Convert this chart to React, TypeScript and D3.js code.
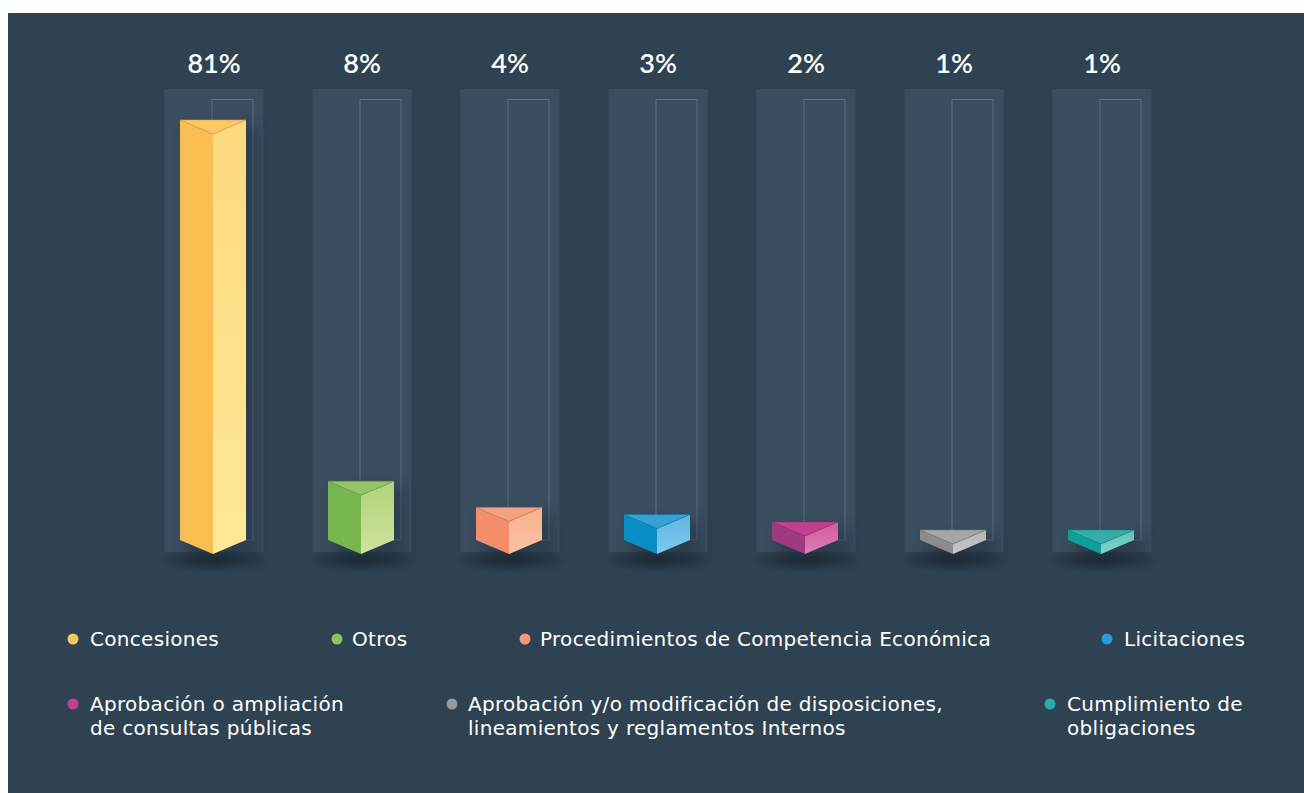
import * as d3 from 'd3';
import { useEffect, useRef } from 'react';

// Data
const categories = [
  'Concesiones',
  'Otros',
  'Procedimientos de Competencia Económica',
  'Licitaciones',
  'Aprobación o ampliación de consultas públicas',
  'Aprobación y/o modificación de disposiciones, lineamientos y reglamentos Internos',
  'Cumplimiento de obligaciones',
];
const values = [81, 8, 4, 3, 2, 1, 1];
const valueLabels = ['81%', '8%', '4%', '3%', '2%', '1%', '1%'];

// legend text lines (as wrapped in the original)
const legendLines = [
  ['Concesiones'],
  ['Otros'],
  ['Procedimientos de Competencia Económica'],
  ['Licitaciones'],
  ['Aprobación o ampliación', 'de consultas públicas'],
  ['Aprobación y/o modificación de disposiciones,', 'lineamientos y reglamentos Internos'],
  ['Cumplimiento de', 'obligaciones'],
];

// face colours: left, right (top / bottom of gradient), top, legend dot
const leftColors = ['#f9bd52', '#78b74f', '#f48d6b', '#0a8dc7', '#9c3b7f', '#8c8c8c', '#0f9f9a'];
const rightTop = ['#fdd97d', '#b2d37b', '#f8b08c', '#5db6e2', '#d05c9f', '#b4b4b4', '#5ec3b9'];
const rightBottom = ['#fee898', '#cde39c', '#fac3a2', '#80c9ec', '#de7cb7', '#c8c8c8', '#7fd2c9'];
const topColors = ['#fbc862', '#95c462', '#f5a07f', '#3a9fd3', '#c2408e', '#a6a6a6', '#35aca8'];
const dotColors = ['#fbc55f', '#8dc35b', '#f4977b', '#2d9ad5', '#c0408c', '#9a9a9a', '#2fa9a4'];

const W = 1304;
const H = 793;
const FONT = 'Lato, "Open Sans", sans-serif';
const LEGEND_FONT = '"DejaVu Sans", sans-serif';

// legend layout (x of dot, x of text, y of first line baseline)
const legendPos: [number, number, number][] = [
  [73, 90, 646],
  [337, 352, 646],
  [525, 540, 646],
  [1107, 1124, 646],
  [73, 90, 711],
  [452, 468, 711],
  [1050, 1067, 711],
];

const App = () => {
  const svgRef = useRef<SVGSVGElement>(null);

  useEffect(() => {
    if (!svgRef.current) return;
    const svg = d3.select(svgRef.current);
    svg.selectAll('*').remove();

    const baseY = 540;
    const colTop = 89;
    const colBottom = 552;
    const halfW = 33;
    const depth = 14;

    const x = d3
      .scaleBand<string>()
      .domain(categories)
      .range([140, 1176])
      .paddingInner(0.331)
      .paddingOuter(0.1655);

    // pow scale: small shares still show
    const h = d3.scalePow().exponent(0.85).domain([0, 81]).range([0, 420]);

    const defs = svg.append('defs');
    categories.forEach((_, i) => {
      const g = defs
        .append('linearGradient')
        .attr('id', `rg${i}`)
        .attr('x1', 0)
        .attr('y1', 0)
        .attr('x2', 0)
        .attr('y2', 1);
      g.append('stop').attr('offset', '0%').attr('stop-color', rightTop[i]);
      g.append('stop').attr('offset', '100%').attr('stop-color', rightBottom[i]);
    });
    const sh = defs.append('radialGradient').attr('id', 'shadow');
    sh.append('stop').attr('offset', '0%').attr('stop-color', '#1a2530').attr('stop-opacity', 0.85);
    sh.append('stop').attr('offset', '100%').attr('stop-color', '#1a2530').attr('stop-opacity', 0);
    const blur = defs
      .append('filter')
      .attr('id', 'blur')
      .attr('x', '-50%')
      .attr('y', '-50%')
      .attr('width', '200%')
      .attr('height', '200%');
    blur.append('feGaussianBlur').attr('stdDeviation', 7);

    svg.append('rect').attr('width', W).attr('height', H).attr('fill', '#ffffff');
    svg
      .append('rect')
      .attr('x', 8)
      .attr('y', 13)
      .attr('width', W - 8)
      .attr('height', H - 13)
      .attr('fill', '#2e4252');

    // column backgrounds
    svg
      .selectAll('.col')
      .data(categories)
      .join('rect')
      .attr('class', 'col')
      .attr('x', (d) => x(d)!)
      .attr('y', colTop)
      .attr('width', x.bandwidth())
      .attr('height', colBottom - colTop)
      .attr('fill', '#3a4e60');

    // thin outline track
    svg
      .selectAll('.track')
      .data(categories)
      .join('rect')
      .attr('class', 'track')
      .attr('x', (d) => x(d)! + x.bandwidth() / 2 - 2)
      .attr('y', 99.5)
      .attr('width', 41)
      .attr('height', baseY - 99.5)
      .attr('fill', 'none')
      .attr('stroke', '#5f7182')
      .attr('stroke-width', 1);

    const cxOf = (d: string) => x(d)! + x.bandwidth() / 2 - 1;

    // shadows on the floor
    svg
      .selectAll('.floor')
      .data(categories)
      .join('ellipse')
      .attr('class', 'floor')
      .attr('cx', (d) => cxOf(d))
      .attr('cy', baseY + depth + 6)
      .attr('rx', 55)
      .attr('ry', 12)
      .attr('fill', 'url(#shadow)');

    // soft shadow of the bar body
    svg
      .selectAll('.body-shadow')
      .data(values)
      .join('rect')
      .attr('class', 'body-shadow')
      .attr('x', (_, i) => cxOf(categories[i]) - halfW + 6)
      .attr('y', (d) => baseY - h(d) + 6)
      .attr('width', halfW * 2 + 6)
      .attr('height', (d) => h(d) + depth)
      .attr('fill', '#1f2c37')
      .attr('opacity', 0.45)
      .attr('filter', 'url(#blur)');

    const bars = svg.selectAll('.bar').data(values).join('g').attr('class', 'bar');

    const pts = (arr: [number, number][]) => arr.map((p) => p.join(',')).join(' ');

    bars
      .append('polygon')
      .attr('points', (d, i) => {
        const cx = cxOf(categories[i]);
        const top = baseY - h(d);
        return pts([
          [cx - halfW, top],
          [cx, top + depth],
          [cx, baseY + depth],
          [cx - halfW, baseY],
        ]);
      })
      .attr('fill', (_, i) => leftColors[i]);

    bars
      .append('polygon')
      .attr('points', (d, i) => {
        const cx = cxOf(categories[i]);
        const top = baseY - h(d);
        return pts([
          [cx, top + depth],
          [cx + halfW, top],
          [cx + halfW, baseY],
          [cx, baseY + depth],
        ]);
      })
      .attr('fill', (_, i) => `url(#rg${i})`);

    bars
      .append('polygon')
      .attr('points', (d, i) => {
        const cx = cxOf(categories[i]);
        const top = baseY - h(d);
        return pts([
          [cx - halfW, top],
          [cx + halfW, top],
          [cx, top + depth],
        ]);
      })
      .attr('fill', (_, i) => topColors[i])
      .attr('stroke', (_, i) => d3.color(leftColors[i])!.darker(0.4).formatHex())
      .attr('stroke-width', 0.6)
      .attr('stroke-linejoin', 'round');

    // value labels
    svg
      .selectAll('.val')
      .data(valueLabels)
      .join('text')
      .attr('class', 'val')
      .attr('x', (_, i) => x(categories[i])! + x.bandwidth() / 2)
      .attr('y', 73)
      .attr('text-anchor', 'middle')
      .attr('fill', '#ffffff')
      .attr('font-family', FONT)
      .attr('font-weight', 600)
      .attr('font-size', 27)
      .text((d) => d);

    // legend
    const leg = svg
      .selectAll('.leg')
      .data(legendLines)
      .join('g')
      .attr('class', 'leg')
      .attr('transform', (_, i) => `translate(0,${legendPos[i][2]})`);

    leg
      .append('circle')
      .attr('cx', (_, i) => legendPos[i][0])
      .attr('cy', -7)
      .attr('r', 5.5)
      .attr('fill', (_, i) => dotColors[i]);

    leg
      .append('text')
      .attr('fill', '#ffffff')
      .attr('font-family', LEGEND_FONT)
      .attr('font-size', 20)
      .attr('letter-spacing', 0.3)
      .selectAll('tspan')
      .data((d, i) => d.map((line) => ({ line, tx: legendPos[i][1] })))
      .join('tspan')
      .attr('x', (d) => d.tx)
      .attr('dy', (_, j) => (j === 0 ? 0 : 24))
      .text((d) => d.line);
  }, []);

  return (
    <svg
      ref={svgRef}
      width={W}
      height={H}
      style={{ position: 'absolute', left: 0, top: 0, display: 'block' }}
    />
  );
};

export default App;
